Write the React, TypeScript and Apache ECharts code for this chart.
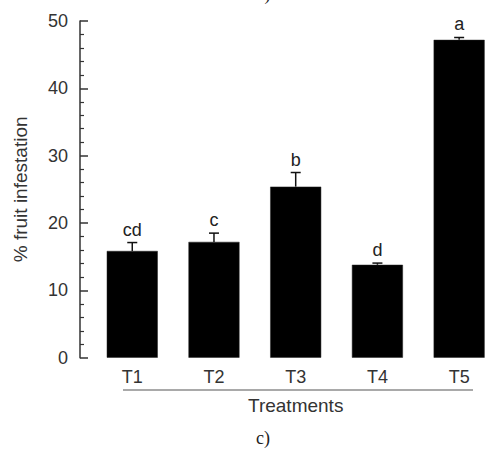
import React, { useEffect, useRef } from "react";
import * as echarts from "echarts";

const categories = ["T1", "T2", "T3", "T4", "T5"];
const means = [15.85, 17.2, 25.4, 13.8, 47.2];
const errors = [1.25, 1.3, 2.1, 0.25, 0.35];
const letters = ["cd", "c", "b", "d", "a"];
const yTicks = { min: 0, max: 50, interval: 10 };

const FONT = "Liberation Sans, Arial, sans-serif";

export default function App() {
  const ref = useRef<HTMLDivElement>(null);
  useEffect(() => {
    if (!ref.current) return;
    const chart = echarts.init(ref.current, null, { renderer: "svg" });
    chart.setOption({
      animation: false,
      backgroundColor: "#fff",
      grid: { left: 91.4, width: 411.2, top: 21, height: 336.7, containLabel: false },
      xAxis: {
        type: "category",
        data: categories,
        axisLine: { show: false },
        axisTick: { show: false },
        axisLabel: { margin: 10, fontSize: 18, color: "#333", fontFamily: FONT },
        name: "Treatments",
        nameLocation: "middle",
        nameGap: 38,
        nameTextStyle: { fontSize: 19, color: "#333", fontFamily: FONT },
      },
      yAxis: {
        type: "value",
        min: yTicks.min,
        max: yTicks.max,
        interval: yTicks.interval,
        offset: 11.4,
        axisLine: { show: true, lineStyle: { color: "#333", width: 1.5 } },
        axisTick: { show: true, inside: true, length: 8, lineStyle: { color: "#333", width: 1.5 } },
        minorTick: { show: true, splitNumber: 5, length: 4, lineStyle: { color: "#333", width: 1.2 } },
        splitLine: { show: false },
        axisLabel: { margin: 12, fontSize: 18, color: "#333", fontFamily: FONT },
        name: "% fruit infestation",
        nameLocation: "middle",
        nameGap: 50,
        nameTextStyle: { fontSize: 19, color: "#333", fontFamily: FONT },
      },
      series: [
        {
          type: "bar",
          data: means,
          barWidth: 51,
          itemStyle: { color: "#000", borderColor: "#222", borderWidth: 0.5 },
        },
        {
          type: "custom",
          z: 5,
          data: means.map((m, i) => [i, m, errors[i]]),
          renderItem: (params: any, api: any) => {
            const x = api.value(0);
            const y = api.value(1);
            const e = api.value(2);
            const base = api.coord([x, y]);
            const top = api.coord([x, y + e]);
            return {
              type: "group",
              children: [
                { type: "line", shape: { x1: base[0], y1: base[1], x2: top[0], y2: top[1] }, style: { stroke: "#111", lineWidth: 1.5 } },
                { type: "line", shape: { x1: top[0] - 5, y1: top[1], x2: top[0] + 5, y2: top[1] }, style: { stroke: "#111", lineWidth: 1.5 } },
                {
                  type: "text",
                  x: top[0],
                  y: top[1] - 13,
                  style: { text: letters[params.dataIndex], align: "center", verticalAlign: "middle", fontSize: 18, fontFamily: FONT, fill: "#222" },
                },
              ],
            };
          },
        },
      ],
      graphic: [
        { type: "line", shape: { x1: 123, y1: 390, x2: 473, y2: 390 }, style: { stroke: "#555", lineWidth: 1.2 } },
        { type: "text", x: 263, y: 438, style: { text: "c)", align: "center", verticalAlign: "middle", fontSize: 18, fontFamily: "Liberation Serif, Times New Roman, serif", fill: "#222" } },
        { type: "text", x: 263, y: -6, style: { text: "b)", align: "center", verticalAlign: "middle", fontSize: 18, fontFamily: "Liberation Serif, Times New Roman, serif", fill: "#222" } },
      ],
    });
    return () => chart.dispose();
  }, []);
  return <div ref={ref} style={{ position: "fixed", left: 0, top: 0, width: 500, height: 449 }} />;
}
